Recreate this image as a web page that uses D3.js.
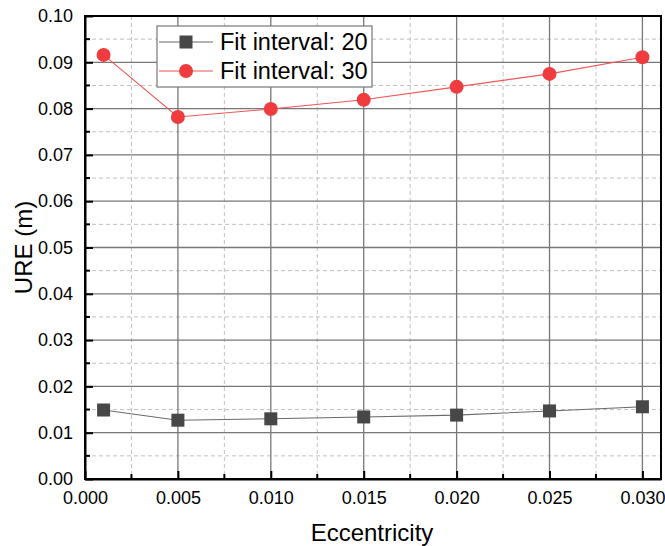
<!DOCTYPE html>
<html>
<head>
<meta charset="utf-8">
<script src="https://cdn.jsdelivr.net/npm/d3@7"></script>
<style>
  body { margin: 0; background: #fff; }
  text { font-family: "Liberation Sans", Arial, sans-serif; }
</style>
</head>
<body>
<script>
// data
var eccentricity = [0.001, 0.005, 0.010, 0.015, 0.020, 0.025, 0.030];
var fit20 = [0.0149, 0.0127, 0.0130, 0.0134, 0.0138, 0.0147, 0.0156];
var fit30 = [0.0916, 0.0782, 0.0799, 0.0819, 0.0847, 0.0875, 0.0911];
var seriesNames = ["Fit interval: 20", "Fit interval: 30"];
var xTicks = [0, 0.005, 0.010, 0.015, 0.020, 0.025, 0.030];
var yTicks = [0, 0.01, 0.02, 0.03, 0.04, 0.05, 0.06, 0.07, 0.08, 0.09, 0.10];

var svg = d3.select("body")
    .append("svg")
    .attr("width", 665)
    .attr("height", 546)
    .style("display", "block");

var margin = {top: 16, right: 4, bottom: 67, left: 85};
var width = 665 - margin.left - margin.right;
var height = 546 - margin.top - margin.bottom;

var g = svg.append("g").attr("transform", "translate(" + margin.left + "," + margin.top + ")");

var x = d3.scaleLinear().domain([0, 0.031]).range([0, width]);
var y = d3.scaleLinear().domain([0, 0.10]).range([height, 0]);

// minor grid (dashed)
var xMinor = d3.range(0.0025, 0.031, 0.005);
var yMinor = d3.range(0.005, 0.1, 0.01);
g.selectAll(".xminor").data(xMinor).enter().append("line")
    .attr("x1", function (d) { return x(d); })
    .attr("x2", function (d) { return x(d); })
    .attr("y1", 0).attr("y2", height)
    .attr("stroke", "#c0c0c0").attr("stroke-dasharray", "4,3");
g.selectAll(".yminor").data(yMinor).enter().append("line")
    .attr("y1", function (d) { return y(d); })
    .attr("y2", function (d) { return y(d); })
    .attr("x1", 0).attr("x2", width)
    .attr("stroke", "#c0c0c0").attr("stroke-dasharray", "4,3");

// major grid
g.selectAll(".xmajor").data(xTicks.slice(1)).enter().append("line")
    .attr("x1", function (d) { return x(d); })
    .attr("x2", function (d) { return x(d); })
    .attr("y1", 0).attr("y2", height)
    .attr("stroke", "#777").attr("stroke-width", 1.3);
g.selectAll(".ymajor").data(yTicks.slice(1, -1)).enter().append("line")
    .attr("y1", function (d) { return y(d); })
    .attr("y2", function (d) { return y(d); })
    .attr("x1", 0).attr("x2", width)
    .attr("stroke", "#777").attr("stroke-width", 1.3);

// frame
g.append("rect")
    .attr("width", width).attr("height", height)
    .attr("fill", "none").attr("stroke", "#000").attr("stroke-width", 2);

// axes with inward ticks
var xAxis = g.append("g").attr("transform", "translate(0," + height + ")")
    .call(d3.axisBottom(x).tickValues(xTicks).tickFormat(d3.format(".3f")).tickSizeInner(-8).tickSizeOuter(0).tickPadding(12));
var yAxis = g.append("g")
    .call(d3.axisLeft(y).tickValues(yTicks).tickFormat(d3.format(".2f")).tickSizeInner(-8).tickSizeOuter(0).tickPadding(12));
[xAxis, yAxis].forEach(function (a) {
    a.select(".domain").attr("stroke-width", 2);
    a.selectAll(".tick line").attr("stroke-width", 2);
    a.selectAll("text").style("font-size", "18px").attr("fill", "#000");
});
// minor ticks
g.selectAll(".xmt").data(xMinor).enter().append("line")
    .attr("x1", function (d) { return x(d); }).attr("x2", function (d) { return x(d); })
    .attr("y1", height).attr("y2", height - 5)
    .attr("stroke", "#000").attr("stroke-width", 2);
g.selectAll(".ymt").data(yMinor).enter().append("line")
    .attr("y1", function (d) { return y(d); }).attr("y2", function (d) { return y(d); })
    .attr("x1", 0).attr("x2", 5)
    .attr("stroke", "#000").attr("stroke-width", 2);

// series
var line = d3.line()
    .x(function (d) { return x(d[0]); })
    .y(function (d) { return y(d[1]); });
var d20 = eccentricity.map(function (e, i) { return [e, fit20[i]]; });
var d30 = eccentricity.map(function (e, i) { return [e, fit30[i]]; });

g.append("path").datum(d20).attr("d", line)
    .attr("fill", "none").attr("stroke", "#6b6b6b").attr("stroke-width", 1.1);
g.append("path").datum(d30).attr("d", line)
    .attr("fill", "none").attr("stroke", "#f05555").attr("stroke-width", 1.1);

g.selectAll(".sq").data(d20).enter().append("rect")
    .attr("x", function (d) { return x(d[0]) - 6.5; })
    .attr("y", function (d) { return y(d[1]) - 6.5; })
    .attr("width", 13).attr("height", 13)
    .attr("fill", "#474747");
g.selectAll(".ci").data(d30).enter().append("circle")
    .attr("cx", function (d) { return x(d[0]); })
    .attr("cy", function (d) { return y(d[1]); })
    .attr("r", 7)
    .attr("fill", "#f03c3f");

// legend
var lg = svg.append("g").attr("transform", "translate(157,26)");
lg.append("rect").attr("width", 215).attr("height", 61)
    .attr("fill", "#fff").attr("stroke", "#777").attr("stroke-width", 1.2);
var entries = [
    {name: seriesNames[0], color: "#6b6b6b", fill: "#474747", shape: "square"},
    {name: seriesNames[1], color: "#f05555", fill: "#f03c3f", shape: "circle"}
];
entries.forEach(function (e, i) {
    var yy = 16 + i * 29;
    lg.append("line").attr("x1", 2).attr("x2", 56).attr("y1", yy).attr("y2", yy)
        .attr("stroke", e.color).attr("stroke-width", 1.1);
    if (e.shape === "square") {
        lg.append("rect").attr("x", 29 - 6.5).attr("y", yy - 6.5).attr("width", 13).attr("height", 13).attr("fill", e.fill);
    } else {
        lg.append("circle").attr("cx", 29).attr("cy", yy).attr("r", 7).attr("fill", e.fill);
    }
    lg.append("text").attr("x", 63).attr("y", yy).attr("dy", "0.36em")
        .style("font-size", "23.5px").text(e.name);
});

// axis titles
svg.append("text")
    .attr("x", 372).attr("y", 541)
    .attr("text-anchor", "middle")
    .style("font-size", "24px")
    .text("Eccentricity");
svg.append("text")
    .attr("transform", "translate(32," + (margin.top + height / 2) + ") rotate(-90)")
    .attr("text-anchor", "middle")
    .style("font-size", "24px")
    .text("URE (m)");
</script>
</body>
</html>
